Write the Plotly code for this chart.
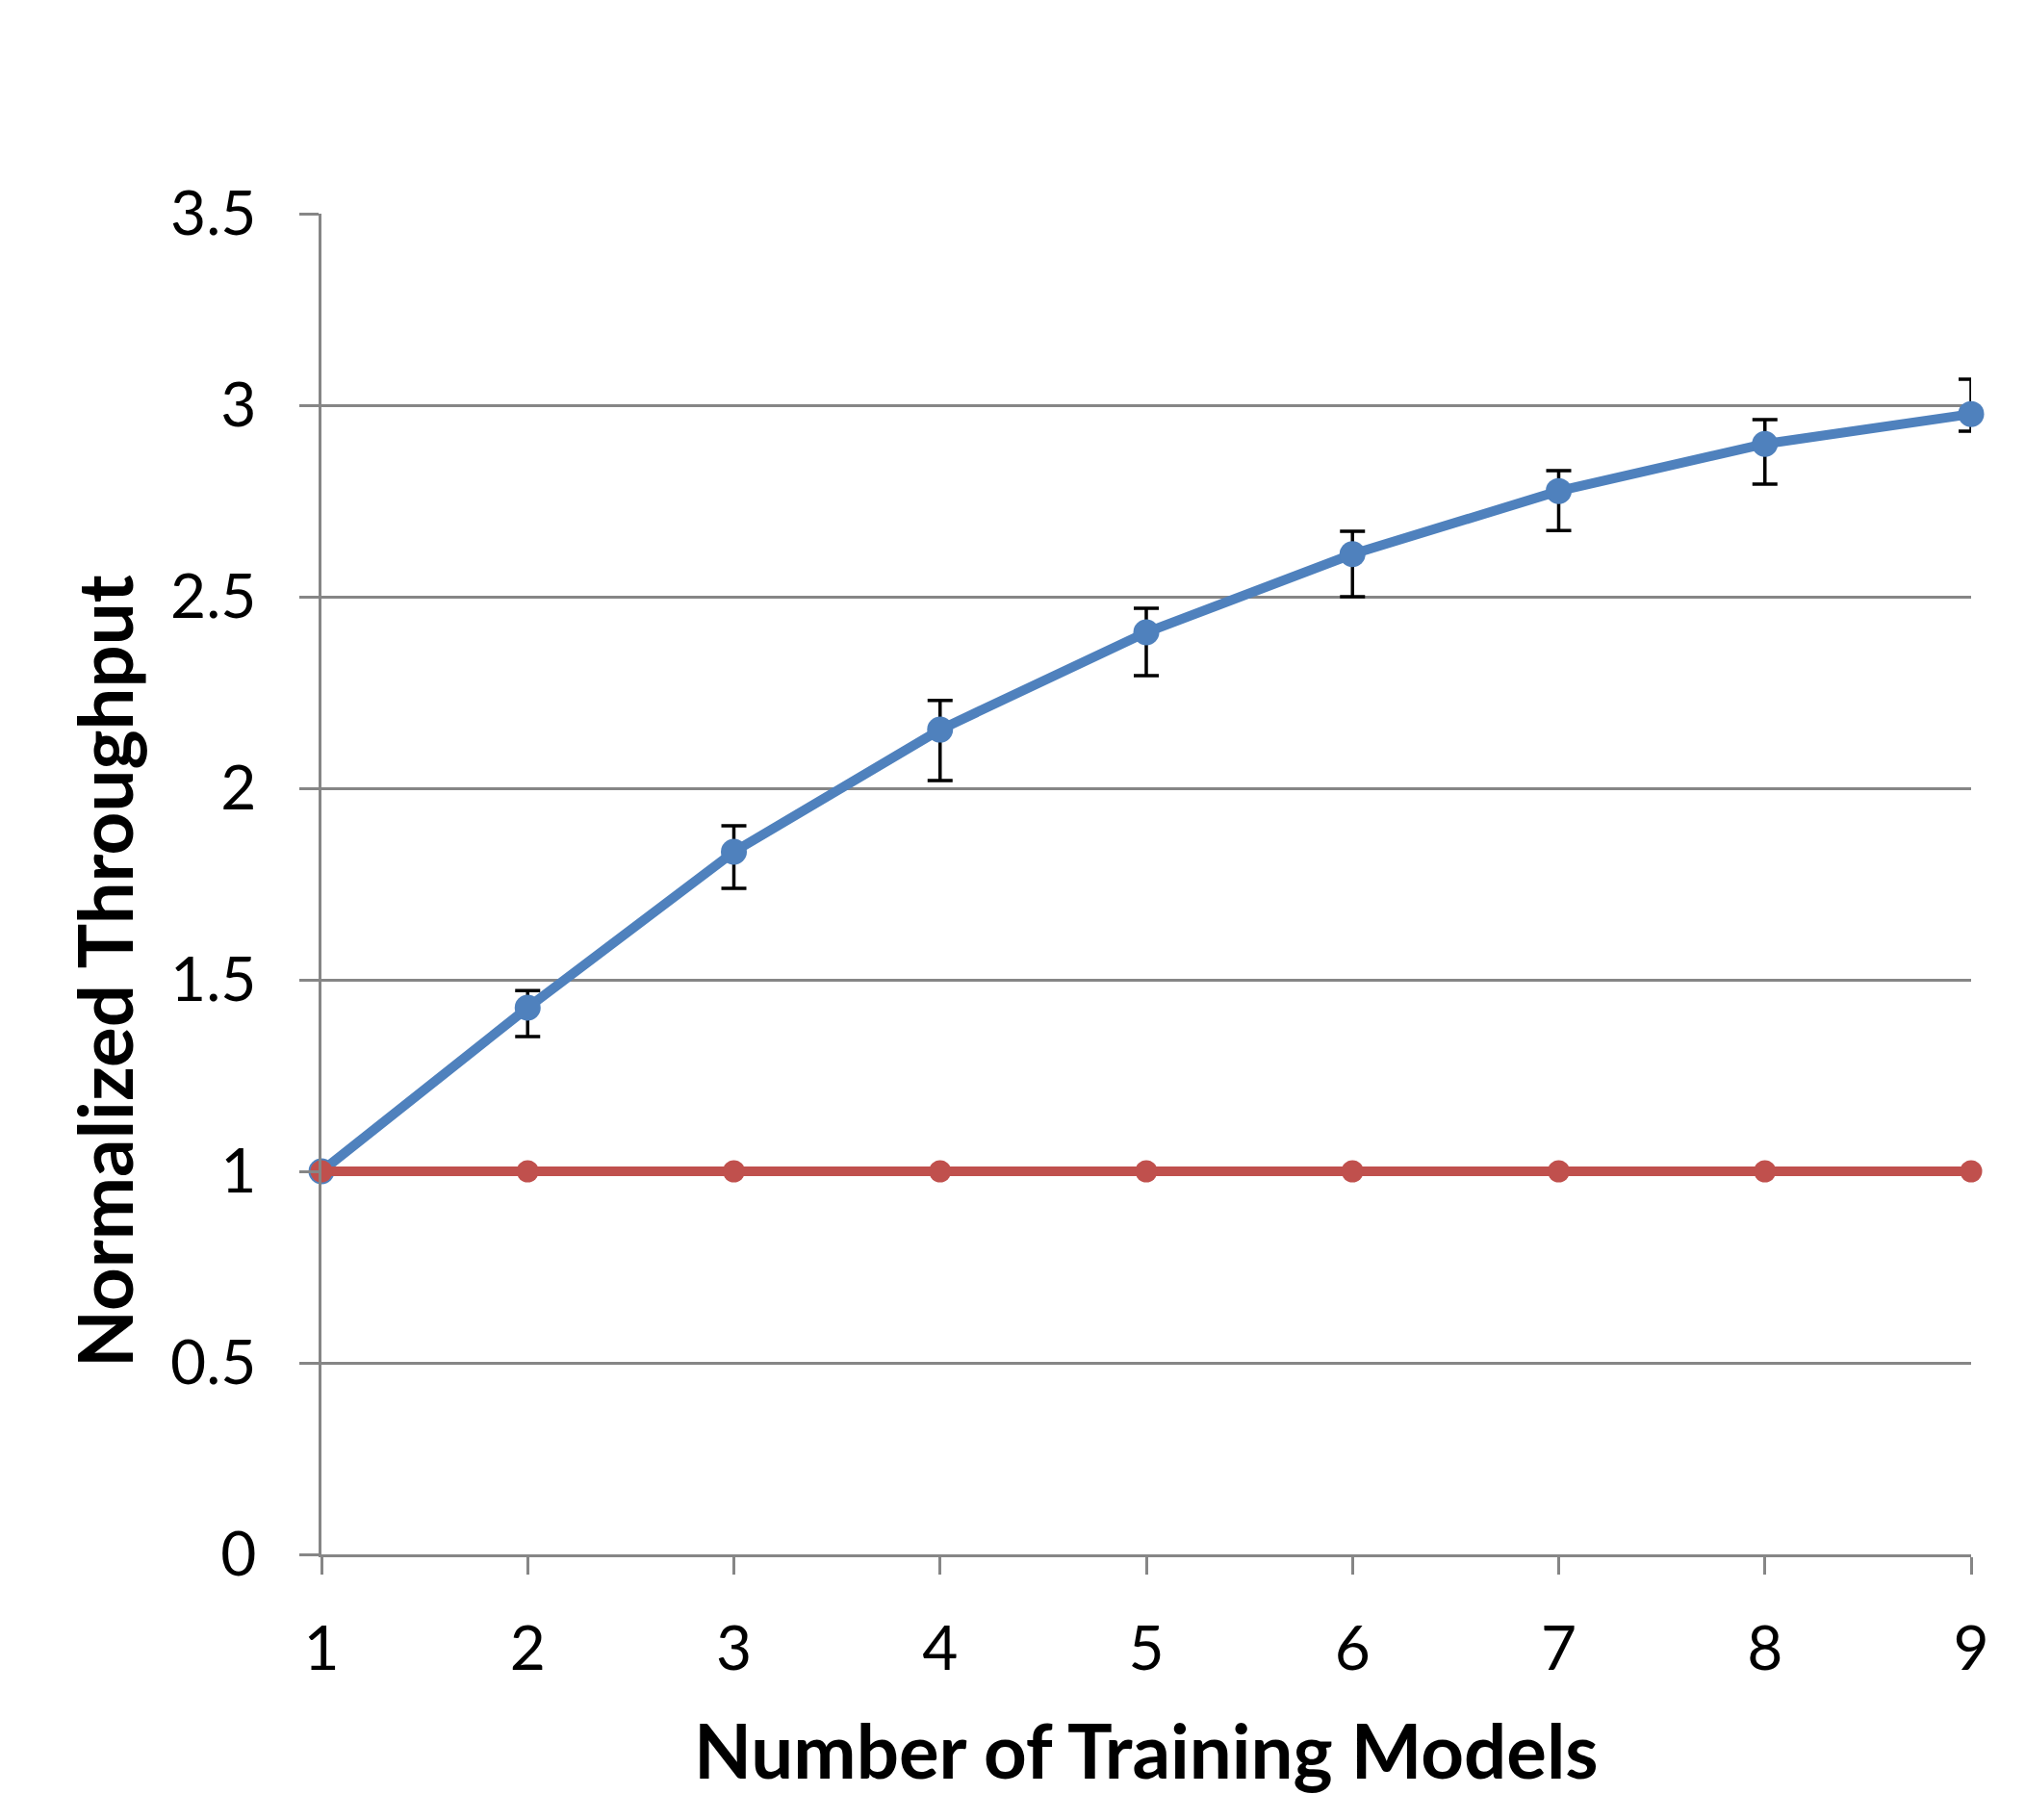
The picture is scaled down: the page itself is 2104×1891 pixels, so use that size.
import plotly.graph_objects as go

models = [1, 2, 3, 4, 5, 6, 7, 8, 9]
blue_values = [1.0, 1.427, 1.834, 2.153, 2.407, 2.611, 2.776, 2.899, 2.977]
blue_upper = [1.0, 1.472, 1.902, 2.229, 2.470, 2.671, 2.829, 2.962, 3.068]
blue_lower = [1.0, 1.352, 1.739, 2.020, 2.294, 2.500, 2.673, 2.794, 2.932]
red_values = [1, 1, 1, 1, 1, 1, 1, 1, 1]
y_ticks = [0, 0.5, 1, 1.5, 2, 2.5, 3, 3.5]
y_tick_labels = ["0", "0.5", "1", "1.5", "2", "2.5", "3", "3.5"]

err_plus = [u - v for u, v in zip(blue_upper, blue_values)]
err_minus = [v - l for v, l in zip(blue_values, blue_lower)]

W, H = 2104, 1891
L, R, T, B = 326, 64, 214, 284
GRID = "#868686"
FONT = "Lato"

fig = go.Figure()
fig.add_trace(go.Scatter(
    x=models, y=blue_values, mode="lines+markers",
    line=dict(color="#4F81BD", width=10),
    marker=dict(color="#4F81BD", size=27),
    error_y=dict(type="data", symmetric=False, array=err_plus, arrayminus=err_minus,
                 color="black", thickness=3.5, width=13),
    showlegend=False, cliponaxis=False,
))
fig.add_trace(go.Scatter(
    x=models, y=red_values, mode="lines+markers",
    line=dict(color="#C0504D", width=10),
    marker=dict(color="#C0504D", size=23),
    showlegend=False, cliponaxis=False,
))

fig.update_layout(
    width=W, height=H,
    margin=dict(l=L, r=R, t=T, b=B, pad=0),
    paper_bgcolor="white", plot_bgcolor="white",
    font=dict(family=FONT, color="black"),
    xaxis=dict(
        range=[1, 9], tickmode="array", tickvals=models,
        ticks="outside", ticklen=18, tickwidth=2.5, tickcolor=GRID,
        showgrid=False, zeroline=False,
        showline=True, linecolor=GRID, linewidth=2.5,
        tickfont=dict(family=FONT, size=64, color="black"),
        ticklabelstandoff=22,
    ),
    yaxis=dict(
        range=[0, 3.5], tickmode="array", tickvals=y_ticks, ticktext=y_tick_labels,
        ticks="outside", ticklen=20, tickwidth=2.5, tickcolor=GRID,
        showgrid=True, gridcolor=GRID, gridwidth=2.5, zeroline=False,
        showline=True, linecolor=GRID, linewidth=2.5,
        tickfont=dict(family=FONT, size=64, color="black"),
        ticklabelstandoff=32,
    ),
)

plot_h = H - T - B
plot_w = W - L - R
fig.add_annotation(
    text="<b>Number of Training Models</b>", showarrow=False,
    xref="paper", yref="paper",
    x=(1183 - L) / plot_w, y=(H - B - 1810) / plot_h,
    xanchor="center", yanchor="middle",
    font=dict(family=FONT, size=78, color="black"),
)
fig.add_annotation(
    text="<b>Normalized Throughput</b>", showarrow=False, textangle=-90,
    xref="paper", yref="paper",
    x=(100 - L) / plot_w, y=(H - B - 1001) / plot_h,
    xanchor="center", yanchor="middle",
    font=dict(family=FONT, size=78, color="black"),
)

fig.write_html("out.html")
